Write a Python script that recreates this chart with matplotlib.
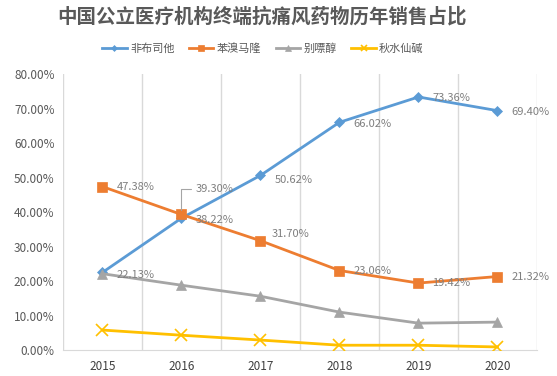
import numpy as np
import matplotlib.pyplot as plt
from matplotlib.ticker import PercentFormatter

plt.rcParams['font.family'] = ['Noto Sans CJK SC', 'DejaVu Sans']

# data
years = ['2015', '2016', '2017', '2018', '2019', '2020']
names = ['非布司他', '苯溴马隆', '别嘌醇', '秋水仙碱']
febuxostat = [22.5, 38.22, 50.62, 66.02, 73.36, 69.40]
benzbromarone = [47.38, 39.30, 31.70, 23.06, 19.42, 21.32]
allopurinol = [22.13, 18.8, 15.6, 11.0, 7.8, 8.1]
colchicine = [5.8, 4.3, 2.9, 1.4, 1.4, 0.9]

colors = ['#5B9BD5', '#ED7D31', '#A5A5A5', '#FFC000']
markers = ['D', 's', '^', 'x']
msizes = [5, 7, 7, 8]
series = [febuxostat, benzbromarone, allopurinol, colchicine]

fig = plt.figure(figsize=(5.57, 3.76), dpi=100)
ax = fig.add_axes([0.113, 0.069, 0.851, 0.734])
x = np.arange(len(years))

for s, c, m, ms, n in zip(series, colors, markers, msizes, names):
    ax.plot(x, s, color=c, marker=m, markersize=ms, lw=2, label=n,
            markeredgewidth=1.2 if m == 'x' else 0.5, zorder=3)

ax.set_xlim(-0.5, 5.5)
ax.set_ylim(0, 80)
ax.set_yticks(np.arange(0, 81, 10))
ax.yaxis.set_major_formatter(PercentFormatter(decimals=2))
ax.set_xticks(x)
ax.set_xticklabels(years)
ax.set_xticks(np.arange(-0.5, 6, 1), minor=True)
ax.grid(True, which='minor', axis='x', color='#D9D9D9', lw=1)
ax.tick_params(which='both', length=0)
ax.tick_params(axis='y', labelsize=8.5, colors='#595959', pad=6)
ax.tick_params(axis='x', labelsize=8.5, colors='#404040', pad=7)
for sp in ['top', 'right', 'left']:
    ax.spines[sp].set_visible(False)
ax.spines['bottom'].set_color('#D9D9D9')

lab = dict(fontsize=8, color='#7F7F7F', va='center')
# data labels
for i in [2, 3, 4, 5]:
    ax.annotate('%.2f%%' % febuxostat[i], (x[i], febuxostat[i]),
                xytext=(10, -1 if i != 2 else -3), textcoords='offset points', **lab)
ax.annotate('%.2f%%' % febuxostat[1], (x[1], febuxostat[1]),
            xytext=(10, -1), textcoords='offset points', **lab)
for i in [0, 3, 4, 5]:
    ax.annotate('%.2f%%' % benzbromarone[i], (x[i], benzbromarone[i]),
                xytext=(10, 0), textcoords='offset points', **lab)
ax.annotate('%.2f%%' % benzbromarone[2], (x[2], benzbromarone[2]),
            xytext=(8, 5), textcoords='offset points', **lab)
ax.annotate('%.2f%%' % benzbromarone[1], (x[1], benzbromarone[1]),
            xytext=(10, 18), textcoords='offset points',
            arrowprops=dict(arrowstyle='-', color='#A5A5A5', lw=0.8,
                            connectionstyle='angle,angleA=0,angleB=90,rad=0',
                            shrinkA=1, shrinkB=3), **lab)
ax.annotate('%.2f%%' % allopurinol[0], (x[0], allopurinol[0]),
            xytext=(10, -1), textcoords='offset points', **lab)

fig.text(0.47, 0.955, '中国公立医疗机构终端抗痛风药物历年销售占比', ha='center', va='center',
         fontsize=14, fontweight='bold', color='#595959')
fig.legend(loc='center', bbox_to_anchor=(0.472, 0.872), ncol=4, frameon=False,
           fontsize=8, labelcolor='#595959', handlelength=2.2, columnspacing=1.3,
           handletextpad=0.3, markerscale=0.6)

fig.savefig('out.png', dpi=100)
